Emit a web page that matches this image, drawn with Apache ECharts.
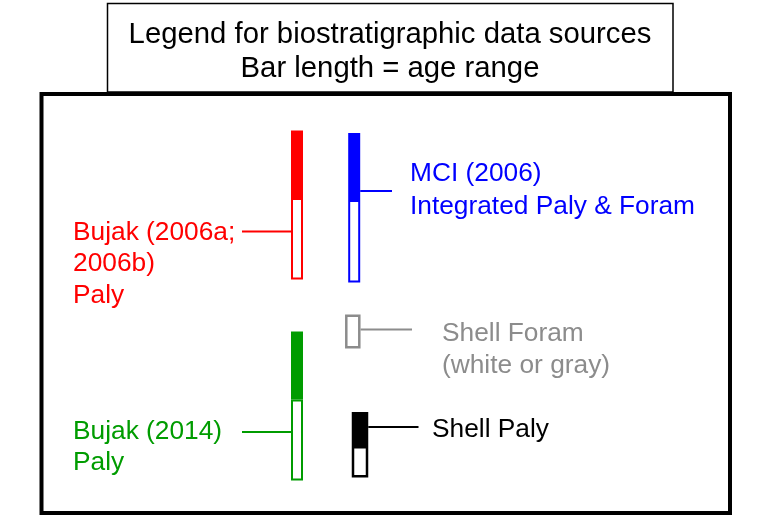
<!DOCTYPE html>
<html lang="en">
<head>
    <meta charset="UTF-8">
    <title>legend</title>
    <script src="https://cdn.jsdelivr.net/npm/echarts/dist/echarts.min.js"></script>
    <style>
        html, body { margin: 0; padding: 0; background: #fff; }
    </style>
</head>
<body>
<div id="main" style="width: 759px;height:520px;"></div>
<script>
    // data sources shown in the legend
    var sourceNames = ['Bujak (2006a;\n2006b)\nPaly', 'MCI (2006)\nIntegrated Paly & Foram',
        'Shell Foram\n(white or gray)', 'Bujak (2014)\nPaly', 'Shell Paly'];
    // bar column, top of age range, end of filled part, base of age range
    var barCenter = [297, 354.2, 352.8, 297, 360];
    var barTop = [130.5, 133, 314.5, 331.5, 412];
    var barSplit = [198, 200, 314.5, 399.5, 446];
    var barBase = [279.5, 282.5, 348.5, 480.5, 477.5];
    // leader line to the label
    var leaderY = [231.5, 191, 329.5, 432, 427];
    var leaderEnd = [242, 392, 412, 242, 418.5];
    var labelX = [73, 410, 442, 73, 432];
    var labelTop = [216.5, 158, 317.5, 415.5, 414];

    var titleLines = ['Legend for biostratigraphic data sources', 'Bar length = age range'];

    var FONT = '"Liberation Sans", Arial, Helvetica, sans-serif';
    var styles = [
        {color: '#ff0000', width: 12, lineWidth: 2, lineHeight: 31.5},
        {color: '#0000ff', width: 12, lineWidth: 2, lineHeight: 32.3},
        {color: '#8c8c8c', width: 15.5, lineWidth: 2.5, lineHeight: 32.3},
        {color: '#009c00', width: 12, lineWidth: 2, lineHeight: 31.5},
        {color: '#000000', width: 16.5, lineWidth: 2.5, lineHeight: 32}
    ];

    var rows = sourceNames.map(function (n, i) {
        return [barCenter[i], barTop[i], barSplit[i], barBase[i], leaderY[i], leaderEnd[i]];
    });

    var chart = echarts.init(document.getElementById('main'));
    var option = {
        animation: false,
        grid: {left: 0, right: 0, top: 0, bottom: 0},
        xAxis: {type: 'value', min: 0, max: 759, show: false},
        yAxis: {type: 'value', min: 0, max: 520, inverse: true, show: false},
        graphic: [
            {
                type: 'rect', z: 1,
                shape: {x: 107.5, y: 3.5, width: 565.5, height: 88.5},
                style: {fill: '#fff', stroke: '#000', lineWidth: 1.5}
            },
            {
                type: 'rect', z: 2,
                shape: {x: 41.5, y: 94, width: 688.5, height: 419},
                style: {fill: 'transparent', stroke: '#000', lineWidth: 4}
            },
            {
                type: 'text', z: 3, x: 390, y: 18.5,
                style: {
                    text: titleLines.join('\n'), fill: '#000', fontSize: 29.3, fontFamily: FONT,
                    align: 'center', verticalAlign: 'top', lineHeight: 33.4
                }
            }
        ],
        series: [{
            type: 'custom',
            clip: false,
            z: 5,
            data: rows,
            renderItem: function (params, api) {
                var i = params.dataIndex;
                var st = styles[i];
                var top = api.coord([api.value(0), api.value(1)]);
                var split = api.coord([api.value(0), api.value(2)]);
                var base = api.coord([api.value(0), api.value(3)]);
                var lead = api.coord([api.value(5), api.value(4)]);
                var lab = api.coord([labelX[i], labelTop[i]]);
                var half = st.width / 2;
                var lw = st.lineWidth;
                var kids = [];
                if (split[1] > top[1]) {
                    kids.push({
                        type: 'rect',
                        shape: {x: top[0] - half, y: top[1], width: st.width, height: split[1] - top[1]},
                        style: {fill: st.color}
                    });
                }
                kids.push({
                    type: 'rect',
                    shape: {
                        x: top[0] - half + lw / 2, y: split[1] + lw / 2,
                        width: st.width - lw, height: base[1] - split[1] - lw
                    },
                    style: {fill: '#fff', stroke: st.color, lineWidth: lw}
                });
                var x1 = lead[0] < top[0] ? top[0] - half : top[0] + half;
                kids.push({
                    type: 'line',
                    shape: {x1: x1, y1: lead[1], x2: lead[0], y2: lead[1]},
                    style: {stroke: st.color, lineWidth: 2}
                });
                kids.push({
                    type: 'text',
                    x: lab[0], y: lab[1],
                    style: {
                        text: sourceNames[i], fill: st.color, fontSize: 26.3, fontFamily: FONT,
                        align: 'left', verticalAlign: 'top', lineHeight: st.lineHeight
                    }
                });
                return {type: 'group', children: kids};
            }
        }]
    };
    chart.setOption(option);
</script>
</body>
</html>
